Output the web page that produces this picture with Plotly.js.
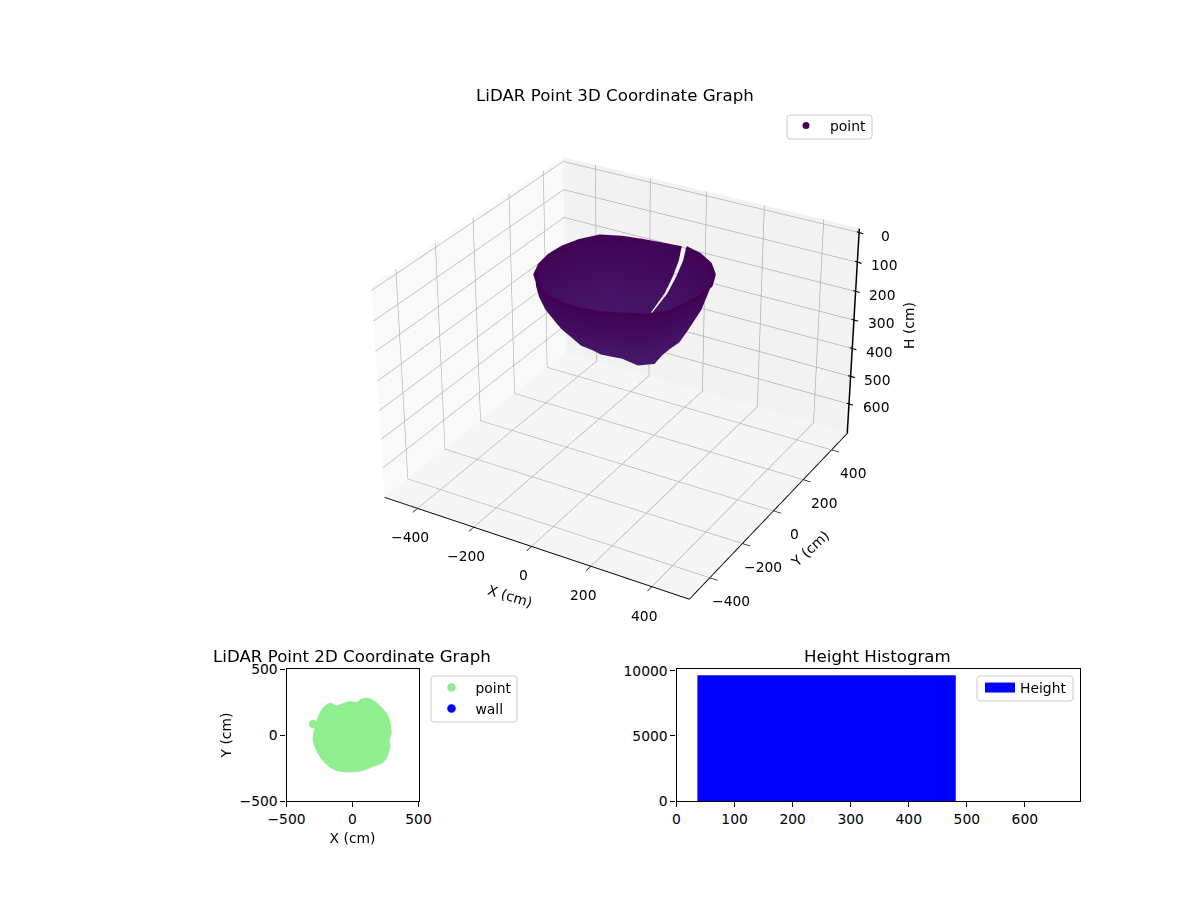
<!DOCTYPE html>
<html><head><meta charset="utf-8">
<script src="https://cdn.plot.ly/plotly-3.0.1.min.js"></script>
<style>html,body{margin:0;padding:0;background:#fff;width:1200px;height:900px;overflow:hidden}
#w{position:relative;width:1200px;height:900px;overflow:hidden}#c{position:absolute;left:-578px;top:-537px;width:2400px;height:1800px}</style>
</head><body><div id="w"><div id="c"></div></div>
<script>
// bowl readings: angle around the centre (deg) and radius (cm) per height ring
const angleDeg = [75,90,105,120,135,150,165,180,195,210,225,240,255,270,285,300,315,330,345,360,375,390,405,420,433];
const ringHeights = [45,85,130,175,220,255,285];
const radiusH45  = [251,235,235,248,266,260,255,252,252,255,252,255,253,248,246,247,262,268,262,262,268,270,270,267,262];
const radiusH85  = [240,228,228,238,255,255,250,250,250,252,250,250,245,240,238,240,255,258,248,250,255,258,258,255,250];
const radiusH130 = [215,205,205,212,228,232,232,236,238,239,232,228,222,218,216,222,235,236,232,235,240,240,236,230,222];
const radiusH175 = [180,170,170,178,195,200,198,200,202,204,203,202,198,195,195,200,212,215,218,220,216,214,205,195,185];
const radiusH220 = [120,112,110,118,132,138,138,140,142,148,155,162,168,165,158,165,178,188,196,194,180,155,135,125,120];
const radiusH255 = [55,50,50,55,62,62,62,65,70,78,90,105,118,125,125,133,180,190,164,110,70,60,58,55,55];
const radiusH285 = [8,8,8,8,8,8,8,8,8,8,8,8,8,8,8,8,8,8,8,8,8,8,8,8,8];
const radiusRings = [radiusH45,radiusH85,radiusH130,radiusH175,radiusH220,radiusH255,radiusH285];

// 2D footprint outline (cm)
const outlineX = [293,288,268,225,162,106,56,35,-15,-78,-121,-167,-212,-250,-268,-288,-298,-273,-217,-142,-66,61,149,237,283,280];
const outlineY = [0,76,144,202,258,278,265,245,253,235,222,240,215,159,109,38,-38,-114,-202,-260,-278,-273,-240,-202,-101,-51];
const pointX = [-298];
const pointY = [83];

// histogram
const binEdges = [36,481];
const binCounts = [9650];

// axis ticks and labels
const xyTicks3d = [-400,-200,0,200,400];
const hTicks = [0,100,200,300,400,500,600];
const ticks2d = [-500,0,500];
const histXTicks = [0,100,200,300,400,500,600];
const histYTicks = [0,5000,10000];
const viridisDark = '#440154';

const W=2400,H=1800,OX=-578,OY=-537;
const px = x => (x-OX)/W;
const py = y => 1-(y-OY)/H;

const rad = Math.PI/180;
const sx = radiusRings.map(r => r.map((v,i)=>v*Math.cos(angleDeg[i]*rad)));
const sy = radiusRings.map(r => r.map((v,i)=>v*Math.sin(angleDeg[i]*rad)));
const sz = radiusRings.map((r,k) => r.map(()=>ringHeights[k]));
const E = 520, ZB = 705, ZT = -15;

const tf = {family:'DejaVu Sans',size:13.89,color:'#000'};
const ax3 = (extra)=>Object.assign({
  showbackground:true, gridcolor:'#b0b0b0', gridwidth:1.5, zeroline:false, showspikes:false,
  showline:true, linecolor:'#000', linewidth:2, ticks:'outside', ticklen:7, tickwidth:1.5, tickcolor:'#000',
  showticklabels:false, title:{text:''}
},extra);

const traces = [
 {type:'surface',x:sx,y:sy,z:sz,surfacecolor:sz,cmin:45,cmax:285,
  colorscale:[[0,'#400456'],[1,'#481b6d']],showscale:false,showlegend:false,hoverinfo:'skip',
  lighting:{ambient:1,diffuse:0,specular:0,roughness:1,fresnel:0},scene:'scene'},
 {type:'scatter3d',mode:'lines',x:sx[0],y:sy[0],z:sz[0],line:{color:viridisDark,width:6},showlegend:false,hoverinfo:'skip',scene:'scene'},
 {type:'scatter3d',mode:'markers',name:'point',x:[null],y:[null],z:[null],marker:{size:7,color:viridisDark},scene:'scene',legend:'legend'},
 {type:'scatter3d',mode:'lines',x:[E-1,E-1],y:[E-3,E-3],z:[ZT+1,ZB-1],line:{color:'#000',width:3},showlegend:false,hoverinfo:'skip',scene:'scene'},
 {type:'scatter',mode:'lines',x:outlineX,y:outlineY,fill:'toself',fillcolor:'#90ee90',
  line:{color:'#90ee90',width:1,shape:'spline'},showlegend:false,hoverinfo:'skip',xaxis:'x',yaxis:'y'},
 {type:'scatter',mode:'markers',name:'point',x:pointX,y:pointY,marker:{size:8.5,color:'#90ee90'},xaxis:'x',yaxis:'y',legend:'legend2'},
 {type:'scatter',mode:'markers',name:'wall',x:[null],y:[null],marker:{size:8.5,color:'#0000ff'},xaxis:'x',yaxis:'y',legend:'legend2'},
 {type:'bar',x:[(binEdges[0]+binEdges[1])/2],y:binCounts,width:[binEdges[1]-binEdges[0]],showlegend:false,
  marker:{color:'#0000ff',line:{width:0}},xaxis:'x2',yaxis:'y2'},
 {type:'scatter',mode:'lines',name:'Height',x:[null],y:[null],line:{color:'#0000ff',width:10},xaxis:'x2',yaxis:'y2',legend:'legend3'}
];

const ax2 = (extra)=>Object.assign({showline:true,mirror:true,linecolor:'#000',linewidth:1.1,ticks:'outside',ticklen:5,
  tickwidth:1.1,tickcolor:'#000',tickfont:tf,showgrid:false,zeroline:false,tickformat:'d',title:{font:tf}},extra);
const lg = (x,y,w)=>({x:px(x),y:py(y),xanchor:'left',yanchor:'top',bgcolor:'rgba(0,0,0,0)',borderwidth:0,font:tf,itemsizing:'trace',itemwidth:w});
const ttl = (t,x,y)=>({text:t,x:px(x),y:py(y),xref:'paper',yref:'paper',showarrow:false,xanchor:'center',yanchor:'middle',font:{family:'DejaVu Sans',size:16.67,color:'#000'}});
const box = (x0,y0,x1,y1)=>{const r=3,a=px(x0),b=px(x1),c=py(y0),d=py(y1),rx=r/W,ry=r/H;
  return {type:'path',xref:'paper',yref:'paper',layer:'below',line:{color:'#cccccc',width:1},fillcolor:'rgba(255,255,255,0.8)',
  path:`M${a+rx},${c}L${b-rx},${c}Q${b},${c} ${b},${c-ry}L${b},${d+ry}Q${b},${d} ${b-rx},${d}L${a+rx},${d}Q${a},${d} ${a},${d+ry}L${a},${c-ry}Q${a},${c} ${a+rx},${c}Z`};};

const note = (x,y,z,t,xs,ys,ang)=>({x,y,z,text:t,showarrow:false,xanchor:'center',yanchor:'middle',xshift:xs,yshift:ys,textangle:ang||0,font:tf});
const tickMark = z=>({x:E,y:E,z,text:'\u00a0',showarrow:true,arrowhead:0,arrowwidth:1.1,arrowcolor:'#000',standoff:0,startstandoff:0,ax:8,ay:2.5,xshift:-3,yshift:1,font:{size:1}});
const sceneNotes = [
  ...xyTicks3d.map(v=>note(v,-E,ZB,String(v).replace('-','\u2212'),-8,-29)),
  ...xyTicks3d.map(v=>note(E,v,ZB,String(v).replace('-','\u2212'),21,-23)),
  ...hTicks.map(v=>note(E,E,v,String(v),26,-3)),
  ...hTicks.map(tickMark),
  note(0,-E,ZB,'X (cm)',-22,-50,17),
  note(E,0,ZB,'Y (cm)',36,-38,-43),
  note(E,E,300,'H (cm)',55,-5,-90)
];

const layout = {
 width:W,height:H,margin:{l:0,r:0,t:0,b:0},paper_bgcolor:'rgba(0,0,0,0)',plot_bgcolor:'#fff',showlegend:true,
 scene:{domain:{x:[0,1],y:[0,1]},
  aspectmode:'manual',aspectratio:{x:1,y:1,z:0.685},
  camera:{eye:{x:2.744,y:-4.714,z:3.05},up:{x:0,y:0,z:1},center:{x:0,y:0,z:0},projection:{type:'perspective'}},
  xaxis:ax3({range:[-E,E],tickvals:xyTicks3d,backgroundcolor:'#f9f9f9'}),
  yaxis:ax3({range:[-E,E],tickvals:xyTicks3d,backgroundcolor:'#f2f2f2'}),
  zaxis:ax3({range:[ZB,ZT],tickvals:hTicks,backgroundcolor:'#f5f5f5',showline:false,ticks:''}),
  annotations:sceneNotes
 },
 xaxis:ax2({domain:[px(286.5),px(418.5)],range:[-500,500],tickvals:ticks2d,anchor:'y',title:{text:'X (cm)',font:tf,standoff:7}}),
 yaxis:ax2({domain:[py(801),py(669)],range:[-500,500],tickvals:ticks2d,anchor:'x',title:{text:'Y (cm)',font:tf,standoff:4}}),
 xaxis2:ax2({domain:[px(676.5),px(1080)],range:[0,695],tickvals:histXTicks,anchor:'y2'}),
 yaxis2:ax2({domain:[py(801),py(669)],range:[0,10130],tickvals:histYTicks,anchor:'x2'}),
 legend:lg(782,110,38),
 legend2:lg(427.5,672,38),
 legend3:lg(980,672,30),
 shapes:[box(787,115,872,139),box(431,676,517,722),box(977,676,1073,701)],
 annotations:[ttl('LiDAR Point 3D Coordinate Graph',615,95),ttl('LiDAR Point 2D Coordinate Graph',352,656),ttl('Height Histogram',877,656)]
};
Plotly.newPlot('c',traces,layout,{displayModeBar:false});
</script></body></html>
